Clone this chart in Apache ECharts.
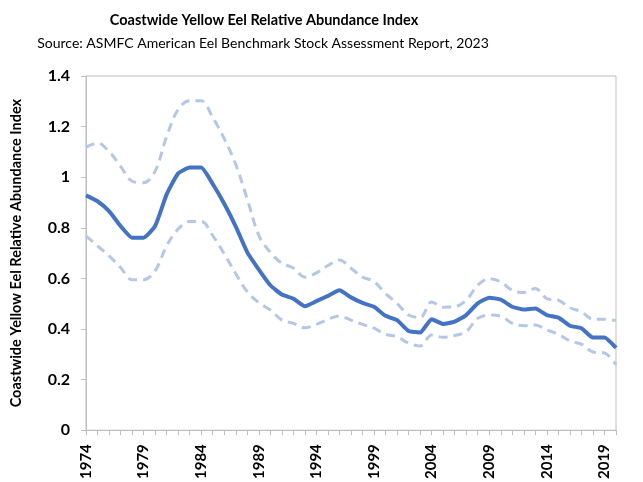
<!DOCTYPE html>
<html>
<head>
<meta charset="utf-8">
<script src="https://cdn.jsdelivr.net/npm/echarts@6/dist/echarts.min.js"></script>
<style>html,body{margin:0;padding:0;background:#fff}#c{width:643px;height:482px}</style>
</head>
<body>
<div id="c"></div>
<script>
const years = [];
for (let y = 1974; y <= 2020; y++) years.push(String(y));

const indexValues = [0.928,0.905,0.866,0.807,0.761,0.761,0.807,0.932,1.015,1.038,1.038,0.973,0.895,0.805,0.703,0.635,0.573,0.536,0.520,0.490,0.510,0.531,0.553,0.525,0.503,0.488,0.452,0.435,0.392,0.386,0.439,0.420,0.429,0.455,0.501,0.524,0.516,0.488,0.477,0.481,0.455,0.445,0.413,0.403,0.366,0.366,0.325];
const upperCI = [1.119,1.135,1.102,1.043,0.984,0.978,1.024,1.161,1.268,1.302,1.302,1.236,1.152,1.050,0.913,0.770,0.703,0.660,0.641,0.605,0.622,0.651,0.673,0.640,0.605,0.588,0.540,0.501,0.455,0.445,0.507,0.486,0.488,0.514,0.573,0.599,0.586,0.553,0.544,0.560,0.520,0.514,0.484,0.468,0.439,0.439,0.433];
const lowerCI = [0.768,0.729,0.689,0.643,0.595,0.595,0.630,0.729,0.795,0.825,0.825,0.769,0.697,0.618,0.547,0.504,0.475,0.435,0.422,0.405,0.418,0.438,0.451,0.435,0.418,0.403,0.379,0.370,0.344,0.333,0.376,0.367,0.374,0.390,0.442,0.455,0.451,0.422,0.413,0.416,0.396,0.379,0.353,0.340,0.309,0.305,0.259];

const titleText = 'Coastwide Yellow Eel Relative Abundance Index';
const subtitleText = 'Source: ASMFC American Eel Benchmark Stock Assessment Report, 2023';
const yAxisName = 'Coastwide Yellow Eel Relative Abundance Index';

const FONT = 'Lato';
const chart = echarts.init(document.getElementById('c'), null, {renderer: 'canvas'});
chart.setOption({
  animation: false,
  backgroundColor: '#fff',
  title: [
    {text: titleText, left: 259, top: 8, textAlign: 'center',
     textStyle: {fontFamily: FONT, fontSize: 14.5, fontWeight: 'bold', color: '#000'}},
    {text: subtitleText, left: 258, top: 31, textAlign: 'center',
     textStyle: {fontFamily: FONT, fontSize: 14, fontWeight: 'normal', color: '#000'}}
  ],
  grid: {left: 86, right: 27, top: 76, bottom: 49, show: true, borderColor: '#bfbfbf', borderWidth: 1},
  xAxis: {
    type: 'category', data: years, boundaryGap: false,
    axisLine: {lineStyle: {color: '#bfbfbf', width: 1}},
    axisTick: {show: true, interval: 0, length: 5, lineStyle: {color: '#bfbfbf'}},
    axisLabel: {interval: 4, rotate: 90, margin: 14, fontFamily: FONT, fontSize: 15, fontWeight: 'bold', color: '#000'},
    splitLine: {show: false}
  },
  yAxis: {
    type: 'value', min: 0, max: 1.4, interval: 0.2,
    name: yAxisName, nameLocation: 'middle', nameGap: 62, nameRotate: 90,
    nameTextStyle: {fontFamily: FONT, fontSize: 14.5, fontWeight: 'bold', color: '#000'},
    axisLine: {show: true, lineStyle: {color: '#bfbfbf', width: 1}},
    axisTick: {show: true, length: 5, lineStyle: {color: '#bfbfbf'}},
    axisLabel: {margin: 16, fontFamily: FONT, fontSize: 16, fontWeight: 'bold', color: '#000',
      formatter: v => String(Math.round(v * 10) / 10)},
    splitLine: {show: false}
  },
  series: [
    {name: 'Upper', type: 'line', data: upperCI, smooth: 0.35, symbol: 'none',
     lineStyle: {color: '#b4c7e7', width: 3, type: [9, 6]}, z: 2},
    {name: 'Lower', type: 'line', data: lowerCI, smooth: 0.35, symbol: 'none',
     lineStyle: {color: '#b4c7e7', width: 3, type: [9, 6]}, z: 2},
    {name: 'Index', type: 'line', data: indexValues, smooth: 0.15, symbol: 'none',
     lineStyle: {color: '#4472c4', width: 4}, z: 3}
  ]
});
</script>
</body>
</html>
